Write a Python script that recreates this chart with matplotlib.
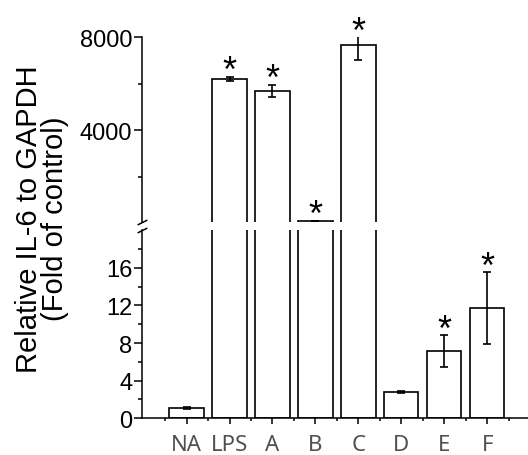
import numpy as np
import matplotlib.pyplot as plt

# datos
labels = ['NA', 'LPS', 'A', 'B', 'C', 'D', 'E', 'F']
means = [1.1, 6200, 5680, 80, 7670, 2.8, 7.1, 11.7]
errs = [0.1, 100, 260, 0, 650, 0.1, 1.7, 3.8]
stars = [False, True, True, True, True, False, True, True]

low_lim = (0, 20)
up_lim = (20, 8000)

txt_font = ['Liberation Sans', 'DejaVu Sans']

fig = plt.figure(figsize=(5.28, 4.56), dpi=100)
ax_up = fig.add_axes([0.268, 0.5099, 0.732, 0.4061])
ax_lo = fig.add_axes([0.268, 0.0805, 0.732, 0.4127])

x = np.arange(len(labels))
means = np.array(means, dtype=float)
errs = np.array(errs, dtype=float)
big = means > low_lim[1]
small = ~big

# barras de abajo (todas)
ax_lo.bar(x, means, width=0.8, color='white', edgecolor='black', linewidth=1.2)
ax_lo.errorbar(x[small], means[small], yerr=errs[small], fmt='none', ecolor='black',
               elinewidth=1.2, capsize=3, capthick=1.2)
# barras de arriba (solo las grandes)
ax_up.bar(x[big], means[big], width=0.8, color='white', edgecolor='black', linewidth=1.2)
ax_up.errorbar(x[big], means[big], yerr=errs[big], fmt='none', ecolor='black',
               elinewidth=1.2, capsize=3, capthick=1.2)

for ax in (ax_up, ax_lo):
    ax.set_xlim(-1.05, 7.95)
    ax.spines['top'].set_visible(False)
    ax.spines['right'].set_visible(False)
    ax.spines['left'].set_linewidth(1.1)
    ax.tick_params(axis='y', which='major', direction='out', length=5.5, width=1.1, pad=1)
    ax.tick_params(axis='y', which='minor', direction='out', length=3, width=1.1)

ax_lo.set_ylim(*low_lim)
ax_lo.set_yticks([0, 4, 8, 12, 16])
ax_lo.set_yticks([2, 6, 10, 14, 18], minor=True)
ax_lo.set_xticks(x)
ax_lo.set_xticks(np.arange(-0.5, 8, 1), minor=True)
ax_lo.set_xticklabels(labels, family=['Noto Sans', 'DejaVu Sans'], fontsize=16, color='#505050')
ax_lo.spines['bottom'].set_linewidth(1.1)
ax_lo.tick_params(axis='x', which='major', direction='out', length=4, width=1.1, pad=7)
ax_lo.tick_params(axis='x', which='minor', direction='out', length=2.5, width=1.1)

ax_up.set_ylim(*up_lim)
ax_up.set_yticks([4000, 8000])
ax_up.set_yticks([2000, 6000], minor=True)
ax_up.spines['bottom'].set_visible(False)
ax_up.tick_params(axis='x', which='both', bottom=False, labelbottom=False)

for ax in (ax_up, ax_lo):
    for t in ax.get_yticklabels():
        t.set_family(txt_font)
        t.set_fontsize(17)

# asteriscos
for i in range(len(labels)):
    if not stars[i]:
        continue
    ax = ax_up if big[i] else ax_lo
    top = min(means[i] + errs[i], ax.get_ylim()[1])
    ax.annotate('*', xy=(x[i], top), xytext=(0, -3), textcoords='offset points',
                ha='center', va='baseline', fontsize=26, family=txt_font,
                annotation_clip=False)

# marcas de corte en el eje
kw = dict(marker=[(-1, -0.5), (1, 0.5)], markersize=7, linestyle='none',
          color='black', mec='black', mew=1.1, clip_on=False)
ax_up.plot([0], [0], transform=ax_up.transAxes, **kw)
ax_lo.plot([0], [1], transform=ax_lo.transAxes, **kw)

fig.text(42 / 528, 1 - 219 / 456, 'Relative IL-6 to GAPDH\n(Fold of control)',
         rotation=90, ha='center', va='center', fontsize=21, family=txt_font,
         linespacing=0.88)

fig.savefig('out.png', dpi=100)
